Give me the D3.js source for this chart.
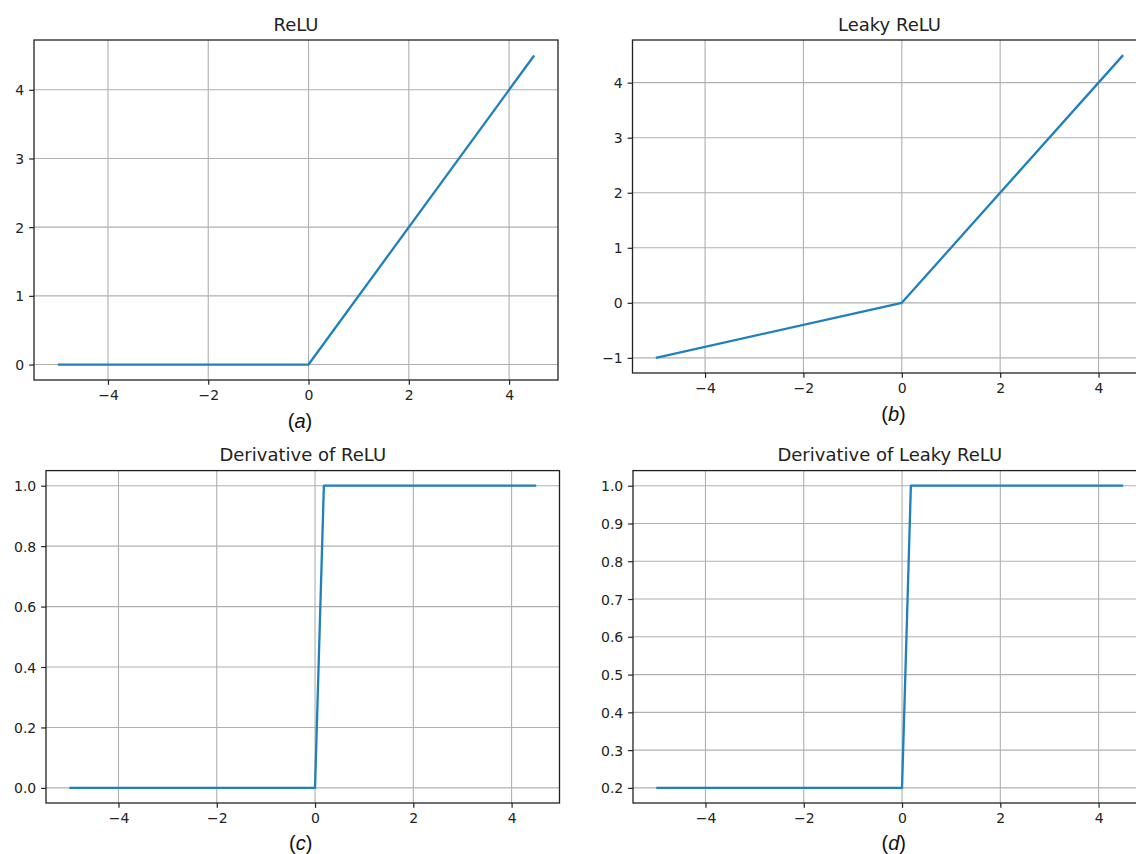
<!DOCTYPE html>
<html>
<head>
<meta charset="utf-8">
<script src="https://cdn.jsdelivr.net/npm/d3@7"></script>
<style>
  html, body { margin: 0; padding: 0; background: #fff; overflow: hidden; }
  svg { display: block; }
  .tick text { font-family: "DejaVu Sans", sans-serif; font-size: 14px; fill: #222; }
</style>
</head>
<body>
<svg id="chart" width="1136" height="854"></svg>
<script>
// ---- data ----
const xRelu = [-5, 0, 4.5];
const yRelu = [0, 0, 4.5];
const xLeaky = [-5, 0, 4.5];
const yLeaky = [-1, 0, 4.5];
const xDeriv = [-5, 0, 0.18, 4.5];
const yDerivRelu = [0, 0, 1, 1];
const yDerivLeaky = [0.2, 0.2, 1, 1];

const xTickValues = [-4, -2, 0, 2, 4];
const yTicksRelu = [0, 1, 2, 3, 4];
const yTicksLeaky = [-1, 0, 1, 2, 3, 4];
const yTicksDerivRelu = [0, 0.2, 0.4, 0.6, 0.8, 1.0];
const yTicksDerivLeaky = [0.2, 0.3, 0.4, 0.5, 0.6, 0.7, 0.8, 0.9, 1.0];

const titles = ["ReLU", "Leaky ReLU", "Derivative of ReLU", "Derivative of Leaky ReLU"];
const letters = ["a", "b", "c", "d"];

// ---- layout ----
const layouts = [
  { l: 34, r: 558, t: 40, b: 380, labelY: 421, labelDx: 4, yFmt: d3.format("d") },
  { l: 632.5, r: 1146.5, t: 40, b: 373, labelY: 414, labelDx: 4, yFmt: d3.format("d") },
  { l: 46, r: 559.5, t: 470.6, b: 803, labelY: 843, labelDx: -2, yFmt: d3.format(".1f") },
  { l: 633, r: 1146.5, t: 470.6, b: 803, labelY: 843, labelDx: 4, yFmt: d3.format(".1f") }
];

const series = [
  { x: xRelu, y: yRelu, yTicks: yTicksRelu },
  { x: xLeaky, y: yLeaky, yTicks: yTicksLeaky },
  { x: xDeriv, y: yDerivRelu, yTicks: yTicksDerivRelu },
  { x: xDeriv, y: yDerivLeaky, yTicks: yTicksDerivLeaky }
];

const svg = d3.select("#chart");
svg.append("rect").attr("width", 1136).attr("height", 854).attr("fill", "#fff");

const px = pt => pt * 100 / 72;
const tickLen = px(3.5), tickPad = px(3.5);

function padded(ext) {
  const m = (ext[1] - ext[0]) * 0.05;
  return [ext[0] - m, ext[1] + m];
}

series.forEach((s, i) => {
  const L = layouts[i];
  const x = d3.scaleLinear().domain(padded(d3.extent(s.x))).range([L.l, L.r]);
  const y = d3.scaleLinear().domain(padded(d3.extent(s.y))).range([L.b, L.t]);
  const g = svg.append("g");

  // grid
  g.append("g").selectAll("line").data(xTickValues).join("line")
    .attr("x1", d => x(d)).attr("x2", d => x(d))
    .attr("y1", L.t).attr("y2", L.b)
    .attr("stroke", "#b0b0b0").attr("stroke-width", px(0.8));
  g.append("g").selectAll("line").data(s.yTicks).join("line")
    .attr("y1", d => y(d)).attr("y2", d => y(d))
    .attr("x1", L.l).attr("x2", L.r)
    .attr("stroke", "#b0b0b0").attr("stroke-width", px(0.8));

  // line
  const pts = s.x.map((xv, k) => [xv, s.y[k]]);
  g.append("path").datum(pts)
    .attr("d", d3.line().x(d => x(d[0])).y(d => y(d[1])))
    .attr("fill", "none").attr("stroke", "#1f80bd")
    .attr("stroke-width", 2.3).attr("stroke-linejoin", "round").attr("stroke-linecap", "butt");

  // frame
  g.append("rect").attr("x", L.l).attr("y", L.t)
    .attr("width", L.r - L.l).attr("height", L.b - L.t)
    .attr("fill", "none").attr("stroke", "#222").attr("stroke-width", 1.3);

  // axes
  const xAxis = d3.axisBottom(x).tickValues(xTickValues).tickFormat(d3.format("d"))
    .tickSize(tickLen).tickPadding(tickPad);
  const gx = g.append("g").attr("transform", `translate(0,${L.b})`).call(xAxis);
  gx.select(".domain").remove();
  gx.selectAll(".tick line").attr("stroke", "#222").attr("stroke-width", 1.2);

  const yAxis = d3.axisLeft(y).tickValues(s.yTicks).tickFormat(L.yFmt)
    .tickSize(tickLen).tickPadding(tickPad);
  const gy = g.append("g").attr("transform", `translate(${L.l},0)`).call(yAxis);
  gy.select(".domain").remove();
  gy.selectAll(".tick line").attr("stroke", "#222").attr("stroke-width", 1.2);
  gy.selectAll(".tick text").attr("dy", "0.36em");

  // title
  g.append("text")
    .attr("x", (L.l + L.r) / 2).attr("y", L.t - px(6) - 1)
    .attr("text-anchor", "middle")
    .attr("font-family", "DejaVu Sans, sans-serif").attr("font-size", 18)
    .attr("fill", "#222").text(titles[i]);

  // panel label
  const lab = g.append("text")
    .attr("x", (L.l + L.r) / 2 + L.labelDx).attr("y", L.labelY)
    .attr("dy", "0.35em")
    .attr("text-anchor", "middle")
    .attr("font-family", "Liberation Sans, Arial, sans-serif").attr("font-size", 20)
    .attr("fill", "#111");
  lab.append("tspan").text("(");
  lab.append("tspan").attr("font-style", "italic").text(letters[i]);
  lab.append("tspan").text(")");
});
</script>
</body>
</html>
